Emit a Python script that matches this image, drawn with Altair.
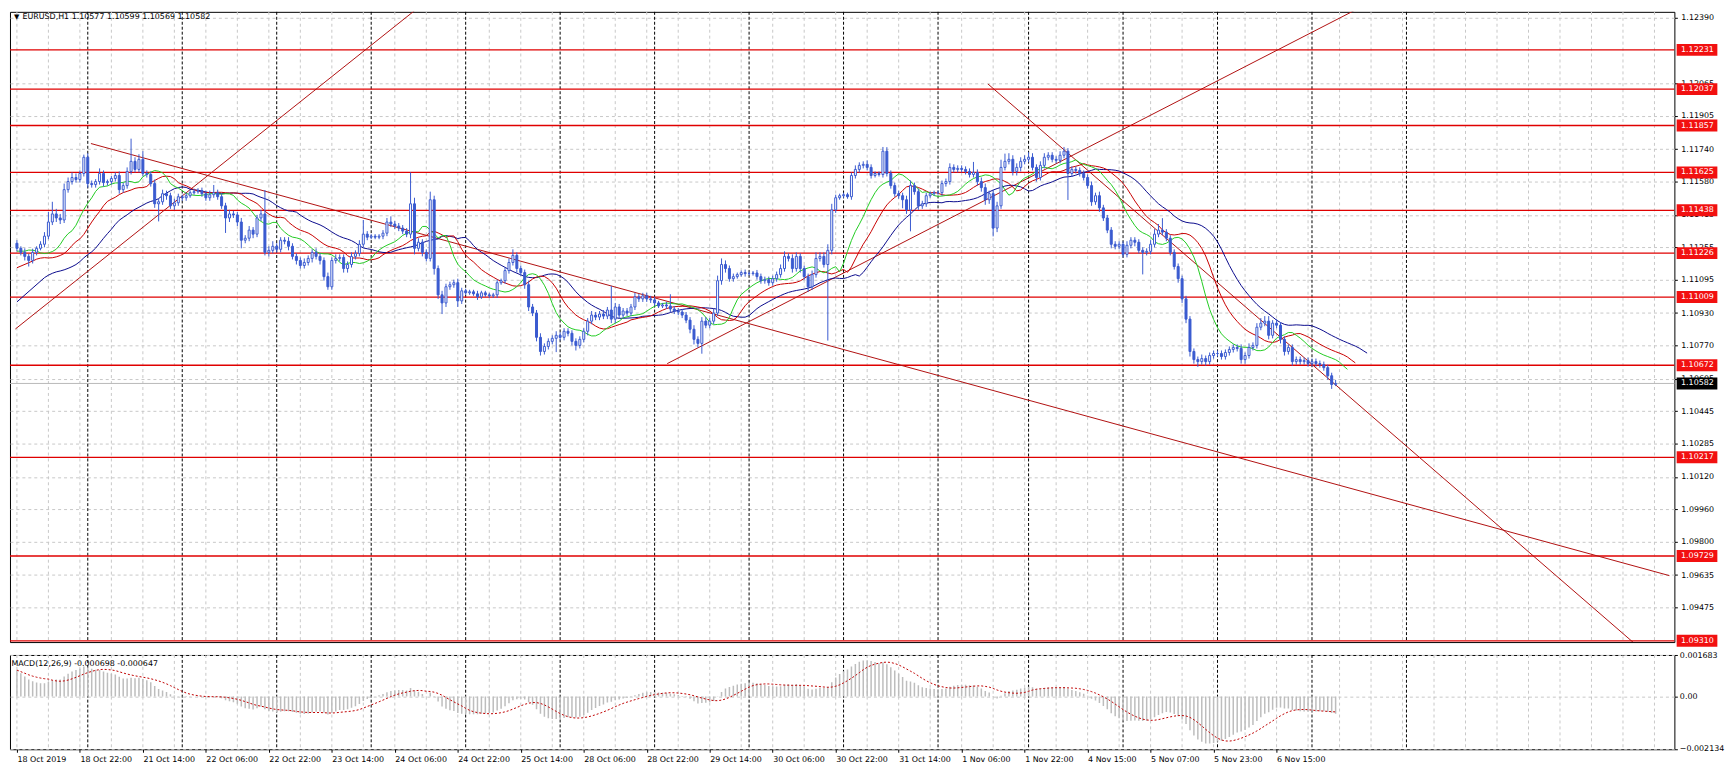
import json
import altair as alt
import numpy as np
import pandas as pd

# ---------------- data ----------------
BASE = 1.10000
PT = 0.00001          # closes / wicks are in points above 1.10000

first_open = 1275
closes = [
    1250, 1230, 1210, 1190, 1230, 1250, 1270, 1310, 1380, 1420, 1400, 1390, 1540, 1580, 1600, 1590,
    1620, 1700, 1570, 1565, 1580, 1620, 1575, 1580, 1595, 1610, 1540, 1560, 1630, 1680, 1640, 1690,
    1620, 1615, 1570, 1470, 1480, 1520, 1510, 1460, 1475, 1505, 1500, 1510, 1525, 1530, 1535, 1520,
    1500, 1515, 1525, 1505, 1460, 1400, 1420, 1415, 1380, 1290, 1300, 1340, 1320, 1400, 1420, 1230,
    1240, 1260, 1245, 1290, 1285, 1260, 1210, 1190, 1165, 1180, 1200, 1230, 1210, 1190, 1110, 1060,
    1190, 1200, 1205, 1150, 1170, 1210, 1225, 1270, 1320, 1305, 1310, 1305, 1310, 1325, 1380, 1370,
    1360, 1350, 1335, 1320, 1470, 1250, 1280, 1230, 1200, 1490, 1150, 1020, 980, 1060, 1070, 1080,
    990, 1040, 1030, 1035, 1025, 1010, 1030, 1020, 1015, 1020, 1080, 1090, 1140, 1180, 1215, 1150,
    1130, 1070, 960, 930, 810, 740, 765, 790, 805, 820, 810, 840, 830, 790, 770, 800,
    840, 890, 920, 910, 925, 915, 945, 900, 960, 920, 940, 930, 960, 1010, 1000, 1015,
    1000, 995, 980, 965, 970, 965, 950, 940, 935, 920, 895, 850, 800, 780, 890, 870,
    890, 930, 1090, 1170, 1150, 1100, 1110, 1120, 1130, 1125, 1125, 1128, 1110, 1090, 1095, 1080,
    1100, 1120, 1150, 1210, 1200, 1150, 1210, 1150, 1110, 1060, 1120, 1200, 1210, 1170, 1240, 1440,
    1500, 1510, 1515, 1505, 1610, 1640, 1660, 1665, 1650, 1610, 1620, 1615, 1730, 1620, 1560, 1520,
    1510, 1490, 1440, 1560, 1530, 1460, 1470, 1510, 1520, 1525, 1525, 1570, 1580, 1650, 1640, 1645,
    1640, 1630, 1615, 1625, 1580, 1550, 1490, 1520, 1350, 1460, 1650, 1680, 1690, 1630, 1650, 1680,
    1690, 1700, 1650, 1600, 1660, 1700, 1710, 1690, 1685, 1710, 1730, 1620, 1640, 1635, 1620, 1600,
    1560, 1480, 1510, 1450, 1400, 1340, 1270, 1260, 1270, 1220, 1265, 1290, 1280, 1240, 1230, 1235,
    1270, 1320, 1340, 1330, 1300, 1230, 1160, 1100, 1000, 900, 740, 700, 690, 705, 690, 720,
    730, 730, 715, 735, 750, 760, 755, 700, 720, 760, 770, 860, 880, 890, 820, 880,
    870, 800, 740, 760, 690, 700, 690, 695, 680, 690, 680, 675, 660, 620, 577, 582,
]
wick_up = [
    15, 10, 20, 12, 18, 10, 15, 20, 50, 60, 25, 20, 30, 20, 25, 20,
    15, 13, 20, 15, 12, 25, 15, 10, 12, 15, 20, 15, 20, 112, 20, 25,
    40, 15, 15, 20, 15, 20, 15, 15, 20, 15, 10, 15, 12, 15, 12, 15,
    15, 20, 38, 15, 15, 15, 20, 15, 15, 20, 15, 20, 15, 15, 20, 118,
    20, 25, 15, 15, 15, 20, 15, 15, 15, 20, 15, 15, 20, 15, 15, 20,
    15, 20, 15, 15, 15, 20, 15, 20, 70, 15, 10, 10, 10, 15, 20, 28,
    15, 15, 15, 15, 155, 30, 20, 15, 15, 40, 20, 15, 20, 15, 15, 15,
    20, 15, 10, 10, 10, 15, 10, 10, 10, 10, 15, 10, 15, 20, 30, 15,
    15, 15, 20, 15, 15, 20, 15, 15, 15, 20, 15, 15, 15, 15, 15, 15,
    15, 15, 20, 15, 15, 20, 15, 119, 20, 15, 15, 15, 15, 20, 15, 15,
    15, 15, 15, 10, 10, 15, 58, 15, 15, 15, 15, 15, 20, 15, 20, 20,
    15, 20, 25, 30, 20, 15, 15, 10, 10, 15, 10, 10, 15, 15, 15, 15,
    15, 15, 20, 25, 15, 20, 20, 15, 15, 15, 20, 30, 20, 20, 30, 30,
    15, 10, 10, 10, 15, 20, 15, 15, 20, 15, 10, 10, 21, 20, 15, 15,
    15, 15, 20, 25, 15, 15, 15, 15, 10, 10, 10, 15, 15, 20, 15, 15,
    15, 15, 15, 52, 15, 20, 20, 15, 20, 20, 38, 38, 30, 20, 20, 20,
    20, 25, 20, 15, 20, 20, 15, 15, 15, 20, 21, 15, 15, 15, 15, 15,
    15, 20, 15, 20, 15, 15, 15, 15, 15, 15, 20, 15, 15, 15, 15, 15,
    20, 25, 30, 59, 15, 15, 15, 15, 15, 15, 15, 15, 15, 20, 15, 15,
    15, 15, 15, 15, 15, 15, 15, 20, 15, 20, 15, 20, 25, 25, 25, 15,
    20, 15, 15, 15, 15, 15, 15, 15, 15, 15, 15, 15, 15, 15, 15, 17,
]
wick_dn = [
    15, 15, 20, 30, 15, 15, 10, 15, 15, 15, 20, 20, 15, 15, 15, 15,
    15, 15, 20, 15, 15, 15, 20, 15, 15, 15, 20, 15, 15, 15, 15, 15,
    15, 15, 15, 20, 87, 15, 20, 15, 20, 15, 15, 15, 10, 10, 10, 15,
    15, 15, 15, 15, 15, 74, 20, 15, 20, 40, 15, 15, 20, 15, 15, 15,
    20, 15, 15, 15, 15, 20, 15, 20, 15, 15, 15, 20, 15, 20, 20, 15,
    15, 15, 15, 20, 20, 15, 15, 15, 15, 15, 10, 10, 10, 15, 15, 15,
    15, 15, 15, 15, 20, 30, 15, 20, 15, 15, 30, 20, 55, 20, 15, 15,
    30, 15, 10, 10, 10, 15, 10, 10, 10, 10, 15, 10, 15, 15, 15, 20,
    15, 20, 20, 15, 20, 20, 15, 15, 15, 68, 15, 15, 15, 20, 25, 15,
    15, 20, 15, 15, 15, 15, 15, 20, 20, 15, 15, 15, 15, 15, 15, 15,
    15, 15, 15, 10, 10, 15, 15, 15, 15, 15, 15, 20, 25, 20, 51, 15,
    15, 15, 15, 20, 20, 15, 15, 10, 10, 15, 10, 10, 15, 15, 15, 15,
    15, 15, 15, 15, 15, 20, 15, 20, 15, 25, 15, 15, 15, 15, 376, 20,
    15, 10, 10, 10, 15, 15, 15, 15, 15, 15, 10, 10, 15, 15, 15, 15,
    15, 42, 20, 106, 15, 20, 15, 15, 10, 10, 10, 15, 15, 15, 15, 15,
    15, 15, 15, 15, 20, 20, 25, 20, 41, 20, 15, 15, 15, 20, 20, 20,
    15, 15, 15, 20, 15, 15, 15, 15, 15, 15, 15, 131, 15, 15, 15, 15,
    15, 20, 15, 20, 15, 15, 20, 15, 15, 15, 15, 15, 20, 15, 109, 15,
    15, 15, 15, 15, 15, 15, 15, 20, 20, 20, 25, 20, 26, 15, 20, 15,
    15, 15, 15, 15, 15, 15, 15, 20, 20, 15, 15, 15, 15, 15, 20, 15,
    15, 20, 20, 15, 20, 15, 15, 15, 15, 15, 15, 15, 15, 20, 22, 8,
]

levels = [1.12231, 1.12037, 1.11857, 1.11625, 1.11438, 1.11226, 1.11009,
          1.10672, 1.10217, 1.09729, 1.09310]
last_price = 1.10582
price_ticks = [1.12390, 1.12065, 1.11905, 1.11740, 1.11580, 1.11415, 1.11255,
               1.11095, 1.10930, 1.10770, 1.10605, 1.10445, 1.10285, 1.10120,
               1.09960, 1.09800, 1.09635, 1.09475]
macd_ticks = [0.001683, 0.0, -0.002134]
time_labels = ["18 Oct 2019", "18 Oct 22:00", "21 Oct 14:00", "22 Oct 06:00",
               "22 Oct 22:00", "23 Oct 14:00", "24 Oct 06:00", "24 Oct 22:00",
               "25 Oct 14:00", "28 Oct 06:00", "28 Oct 22:00", "29 Oct 14:00",
               "30 Oct 06:00", "30 Oct 22:00", "31 Oct 14:00", "1 Nov 06:00",
               "1 Nov 22:00", "4 Nov 15:00", "5 Nov 07:00", "5 Nov 23:00",
               "6 Nov 15:00"]
label_bars = [0, 16, 32, 48, 64, 80, 96, 112, 128, 144, 160, 176, 192, 208,
              224, 240, 256, 272, 288, 304, 320]
day_starts = [18, 42, 66, 90, 114, 138, 162, 186, 210, 234, 257, 281, 305, 329, 353]
grid_bars = list(range(0, 420, 8))
# trend lines: (bar1, price1, bar2, price2)
trend_lines = [(-0.4, 1.10851, 101.6, 1.12434),
               (18.8, 1.11768, 419.8, 1.09632),
               (165.2, 1.10680, 341.1, 1.12439),
               (246.7, 1.12062, 410.6, 1.09302)]
# Alligator (jaw 13/8, teeth 8/5, lips 5/3): value at left edge and value before first data bar
alligator = {"jaw": (13, 8, 1.10985, 1.11105),
             "teeth": (8, 5, 1.11154, 1.11187),
             "lips": (5, 3, 1.11236, 1.11236)}
macd_seed = (1.11300, 1.11180)   # EMA12, EMA26 before the first bar

header = "EURUSD,H1  1.10577 1.10599 1.10569 1.10582"
macd_title = "MACD(12,26,9) -0.000698 -0.000647"

# ---------------- tables ----------------
n = len(closes)
c = BASE + np.array(closes) * PT
o = np.concatenate([[BASE + first_open * PT], c[:-1]])
h = np.maximum(o, c) + np.array(wick_up) * PT
l = np.minimum(o, c) - np.array(wick_dn) * PT
idx = np.arange(n)
candles = pd.DataFrame({"i": idx, "o": o, "h": h, "l": l, "c": c})

med = (h + l) / 2
allig = {}
for name, (period, shift, start, seed) in alligator.items():
    v = seed
    xs_, ys_ = [0, shift - 1], [start, seed]
    for k in range(n):
        v = (v * (period - 1) + med[k]) / period
        xs_.append(k + shift)
        ys_.append(v)
    allig[name] = pd.DataFrame({"x": xs_, "v": ys_})

e12, e26 = macd_seed
macd = []
for k in range(n):
    e12 += 2 / 13 * (c[k] - e12)
    e26 += 2 / 27 * (c[k] - e26)
    macd.append(e12 - e26)
macd_df = pd.DataFrame({"i": idx, "m": macd, "zero": 0.0})
macd_df["s"] = macd_df["m"].rolling(9, min_periods=1).mean()

lv = pd.DataFrame({"p": levels, "t": [f"{p:.5f}" for p in levels]})
lp = pd.DataFrame({"p": [last_price], "t": [f"{last_price:.5f}"]})
tl = pd.DataFrame(trend_lines, columns=["x1", "y1", "x2", "y2"])
grid_df = pd.DataFrame({"i": grid_bars})
day_df = pd.DataFrame({"i": day_starts})

# ---------------- styling ----------------
FONT = "DejaVu Sans"
FS = 8
W, H1, H2 = 1677, 635, 95
BLUE = "#3a5bd0"
RED = "#e00000"
TREND = "#b01010"

xs = alt.Scale(domain=[-0.5, 419.8], nice=False, zero=False)
ys = alt.Scale(domain=[1.093036, 1.124189], nice=False, zero=False)
ms = alt.Scale(domain=[-0.002134, 0.001683], nice=False, zero=False)

Y_AX = alt.Axis(orient="right", values=price_ticks, format=".5f", title=None,
                labelFont=FONT, labelFontSize=FS, labelColor="black",
                tickSize=3, tickColor="black", labelPadding=3.5, domain=False,
                grid=True, gridColor="#c8c8c8", gridDash=[3, 3],
                labelOverlap=False, labelFlush=False, labelBound=False)
M_AX = alt.Axis(orient="right", values=macd_ticks, title=None,
                labelExpr="datum.value == 0 ? '0.00' : format(datum.value, '.6f')",
                labelFont=FONT, labelFontSize=FS, labelColor="black",
                tickSize=3, tickColor="black", labelPadding=2, domain=False,
                grid=True, gridColor="#c8c8c8", gridDash=[3, 3],
                labelOverlap=False, labelFlush=True, labelFlushOffset=3)
X_AX = alt.Axis(values=label_bars, title=None,
                labelExpr=json.dumps(time_labels) + "[round(datum.value / 16)]",
                labelAlign="left", labelFont=FONT, labelFontSize=FS, labelColor="black",
                tickSize=3, tickColor="black", labelPadding=3, domain=False, grid=False,
                labelOverlap=False, labelFlush=False, labelBound=False)


def xp(f):
    return alt.X(f, type="quantitative", scale=xs, axis=None)


def yp(f):
    return alt.Y(f, type="quantitative", scale=ys, axis=Y_AX)


def xm(f):
    return alt.X(f, type="quantitative", scale=xs, axis=X_AX)


def ym(f):
    return alt.Y(f, type="quantitative", scale=ms, axis=M_AX)


# ---------------- price panel ----------------
vgrid = alt.Chart(grid_df).mark_rule(color="#c8c8c8", strokeDash=[3, 3], strokeWidth=1).encode(x=xp("i"))
vday = alt.Chart(day_df).mark_rule(color="black", strokeDash=[3, 2], strokeWidth=1).encode(x=xp("i"))
lev = alt.Chart(lv).mark_rule(color=RED, strokeWidth=1.3).encode(y=yp("p"))
lastline = alt.Chart(lp).mark_rule(color="#b8b8b8", strokeWidth=1).encode(y=yp("p"))
trends = alt.Chart(tl).mark_rule(color=TREND, strokeWidth=1, clip=True).encode(
    x=xp("x1"), y=yp("y1"), x2="x2", y2="y2")
jaw = alt.Chart(allig["jaw"]).mark_line(color="#0a0a8c", strokeWidth=1, clip=True).encode(x=xp("x"), y=yp("v"))
teeth = alt.Chart(allig["teeth"]).mark_line(color="#c80000", strokeWidth=1, clip=True).encode(x=xp("x"), y=yp("v"))
lips = alt.Chart(allig["lips"]).mark_line(color="#22cc22", strokeWidth=1, clip=True).encode(x=xp("x"), y=yp("v"))
wicks = alt.Chart(candles).mark_rule(color=BLUE, strokeWidth=1).encode(x=xp("i"), y=yp("l"), y2="h")
bodies = alt.Chart(candles).mark_bar(size=2, stroke=BLUE, strokeWidth=1).encode(
    x=xp("i"), y=yp("o"), y2="c",
    fill=alt.condition("datum.c >= datum.o", alt.value("white"), alt.value(BLUE)))
lv_box = alt.Chart(lv).mark_tick(orient="horizontal", thickness=12, size=41, color="#f21010", opacity=1).encode(
    y=yp("p"), x=alt.value(W + 22.8))
lv_txt = alt.Chart(lv).mark_text(align="left", baseline="middle", color="white", font=FONT, fontSize=FS).encode(
    y=yp("p"), x=alt.value(W + 6.7), text="t")
lp_box = alt.Chart(lp).mark_tick(orient="horizontal", thickness=12, size=41, color="black", opacity=1).encode(
    y=yp("p"), x=alt.value(W + 22.8))
lp_txt = alt.Chart(lp).mark_text(align="left", baseline="middle", color="white", font=FONT, fontSize=FS).encode(
    y=yp("p"), x=alt.value(W + 6.7), text="t")
head_tri = alt.Chart(pd.DataFrame({"t": ["\u25bc"]})).mark_text(
    align="left", baseline="middle", fontSize=7, color="black", font=FONT).encode(
    x=alt.value(4), y=alt.value(5.5), text="t")
head_txt = alt.Chart(pd.DataFrame({"t": [header]})).mark_text(
    align="left", baseline="middle", fontSize=FS, color="black", font=FONT).encode(
    x=alt.value(12.5), y=alt.value(5.5), text="t")

price = alt.layer(vgrid, vday, lev, lastline, trends, jaw, teeth, lips, wicks, bodies,
                  lv_box, lv_txt, lp_box, lp_txt, head_tri, head_txt).properties(width=W, height=H1)

# ---------------- MACD panel ----------------
mgrid = alt.Chart(grid_df).mark_rule(color="#c8c8c8", strokeDash=[3, 3], strokeWidth=1).encode(x=xm("i"))
mday = alt.Chart(day_df).mark_rule(color="black", strokeDash=[3, 2], strokeWidth=1).encode(x=xm("i"))
hist = alt.Chart(macd_df).mark_bar(size=1.5, color="#bdbdbd", clip=True).encode(x=xm("i"), y=ym("m"), y2="zero")
sig = alt.Chart(macd_df).mark_line(color="#c00000", strokeWidth=1, strokeDash=[2, 2], clip=True).encode(
    x=xm("i"), y=ym("s"))
mtitle = alt.Chart(pd.DataFrame({"t": [macd_title]})).mark_text(
    align="left", baseline="middle", fontSize=FS, color="black", font=FONT).encode(
    x=alt.value(1.5), y=alt.value(9), text="t")
macd_panel = alt.layer(mgrid, mday, hist, sig, mtitle).properties(width=W, height=H2)

chart = alt.vconcat(price, macd_panel, spacing=3).properties(
    padding={"left": 0, "top": 0, "right": 0, "bottom": 0}, background="white"
).configure_view(stroke="black", strokeWidth=1).configure_concat(spacing=3)

chart.save("out.html", embed_options={"renderer": "svg", "actions": False})
